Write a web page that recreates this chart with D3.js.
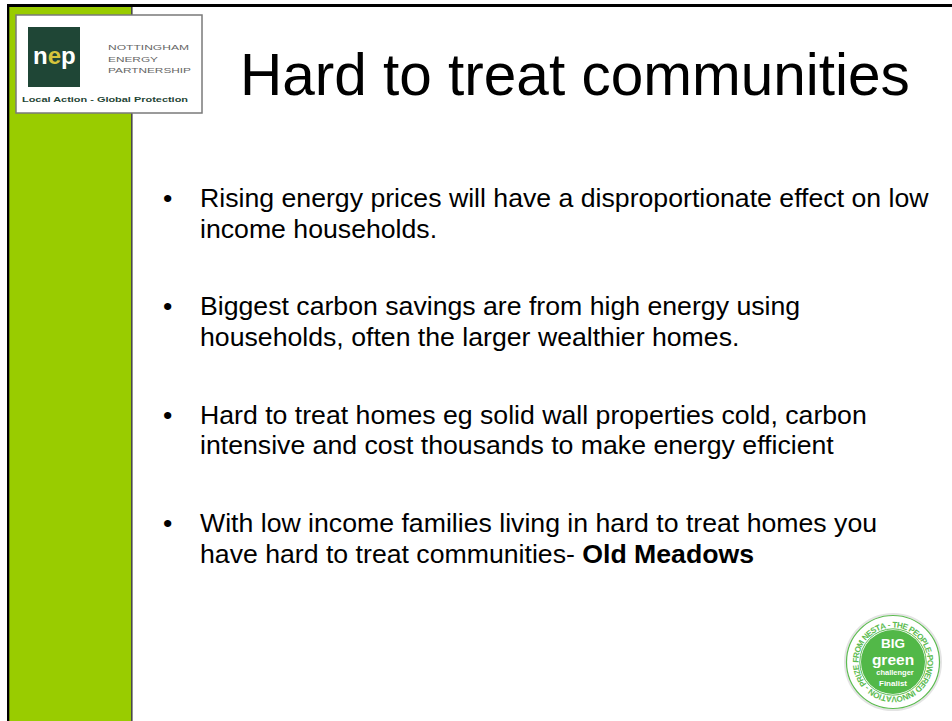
<!DOCTYPE html>
<html>
<head>
<meta charset="utf-8">
<script src="https://cdn.jsdelivr.net/npm/d3@7"></script>
<style>
  html, body { margin: 0; padding: 0; background: #fff; }
  svg { display: block; }
  text { font-family: "Liberation Sans", Arial, sans-serif; }
</style>
</head>
<body>
<div id="chart"></div>
<script>
// ---- content ----
const titleText = "Hard to treat communities";
const bulletLines = [
  ["Rising energy prices will have a disproportionate effect on low", "income households."],
  ["Biggest carbon savings are from high energy using", "households, often the larger wealthier homes."],
  ["Hard to treat homes eg solid wall properties cold, carbon", "intensive and cost thousands to make energy efficient"],
  ["With low income families living in hard to treat homes you", "have hard to treat communities- "]
];
const boldTail = ["", "", "", "Old Meadows"];
const logoNameLines = ["NOTTINGHAM", "ENERGY", "PARTNERSHIP"];
const logoNameWidths = [81, 50, 83];
const logoMark = ["n", "e", "p"];
const logoTagline = "Local Action - Global Protection";
const badgeLines = ["BIG", "green", "challenger", "Finalist"];
const badgeRing = "PRIZE FROM NESTA - THE PEOPLE-POWERED INNOVATION - ";

const W = 952, H = 721;
const svg = d3.select("#chart").append("svg").attr("width", W).attr("height", H);

// ---- frame ----
svg.append("rect").attr("x", 0).attr("y", 0).attr("width", W).attr("height", H).attr("fill", "#fff");
svg.append("rect").attr("x", 9).attr("y", 7).attr("width", 122).attr("height", H - 7).attr("fill", "#99CC00");
svg.append("rect").attr("x", 131).attr("y", 7).attr("width", 1.6).attr("height", H - 7).attr("fill", "#4a4a4a");
svg.append("rect").attr("x", 7).attr("y", 4).attr("width", W - 7).attr("height", 3).attr("fill", "#000");
svg.append("rect").attr("x", 7).attr("y", 4).attr("width", 2.3).attr("height", H - 4).attr("fill", "#000");

// ---- logo ----
const logo = svg.append("g");
logo.append("rect").attr("x", 16).attr("y", 15).attr("width", 186).attr("height", 98)
  .attr("fill", "#fff").attr("stroke", "#7a7a7a").attr("stroke-width", 1.5);
logo.append("rect").attr("x", 28).attr("y", 27).attr("width", 52).attr("height", 60).attr("fill", "#1f4636");
const mark = logo.append("text").attr("x", 33).attr("y", 64)
  .attr("font-size", 24).attr("font-weight", "bold");
mark.selectAll("tspan").data(logoMark).join("tspan")
  .attr("fill", (d, i) => i === 1 ? "#d6c53c" : "#ffffff").text(d => d);
const nameY = d3.scalePoint().domain(logoNameLines).range([50, 73]);
logo.selectAll("text.name").data(logoNameLines).join("text").attr("class", "name")
  .attr("x", 108).attr("y", d => nameY(d))
  .attr("font-size", 8).attr("fill", "#666")
  .attr("textLength", (d, i) => logoNameWidths[i]).attr("lengthAdjust", "spacingAndGlyphs")
  .text(d => d);
logo.append("text").attr("x", 22).attr("y", 102).attr("font-size", 8).attr("font-weight", "bold")
  .attr("fill", "#1f4636").attr("textLength", 166).attr("lengthAdjust", "spacingAndGlyphs")
  .text(logoTagline);

// ---- title ----
svg.append("text").attr("x", 240).attr("y", 95).attr("font-size", 58.5).attr("fill", "#000")
  .text(titleText);

// ---- bullets ----
const paraY = d3.scaleLinear().domain([0, bulletLines.length - 1]).range([207, 532]);
const lineGap = 30.5;
const paras = svg.append("g").selectAll("g").data(bulletLines).join("g");
paras.append("text").attr("x", 163).attr("y", (d, i) => paraY(i))
  .attr("font-size", 26.67).attr("fill", "#000").text("•");
paras.each(function (lines, pi) {
  const g = d3.select(this);
  lines.forEach((ln, li) => {
    const t = g.append("text").attr("x", 200).attr("y", paraY(pi) + li * lineGap)
      .attr("font-size", 26.67).attr("fill", "#000");
    t.append("tspan").text(ln);
    if (li === lines.length - 1 && boldTail[pi]) {
      t.append("tspan").attr("font-weight", "bold").text(boldTail[pi]);
    }
  });
});

// ---- badge ----
const cx = 893, cy = 662;
const badge = svg.append("g").attr("transform", `translate(${cx},${cy})`);
badge.append("circle").attr("r", 48).attr("fill", "#fff").attr("stroke", "#e4e4e4").attr("stroke-width", 2);
badge.append("circle").attr("r", 46.5).attr("fill", "none").attr("stroke", "#5cbb50").attr("stroke-width", 1.2);
badge.append("circle").attr("r", 32).attr("fill", "#52b848");
badge.append("circle").attr("r", 33.2).attr("fill", "none").attr("stroke", "#5cbb50").attr("stroke-width", 1);

// ring text, one glyph at a time, clockwise from lower-left
const rr = 37.5, ringSize = 8.2;
const chars = badgeRing.split("");
const probe = badge.append("text").attr("font-size", ringSize).attr("font-weight", "bold");
const widths = chars.map(c => { probe.text(c === " " ? "\u00a0" : c); return probe.node().getComputedTextLength(); });
probe.remove();
const total = d3.sum(widths);
const circ = 2 * Math.PI * rr;
const k = circ / total;
const a0 = -0.72 * Math.PI;
let acc = 0;
const glyphs = chars.map((c, i) => {
  const mid = acc + widths[i] / 2;
  acc += widths[i];
  return { c, ang: a0 + (mid * k / circ) * 2 * Math.PI };
}).filter(g => g.c !== " ");
badge.selectAll("text.ring").data(glyphs).join("text").attr("class", "ring")
  .attr("font-size", ringSize).attr("font-weight", "bold").attr("fill", "#5cbb50")
  .attr("text-anchor", "middle")
  .attr("transform", d => `rotate(${d.ang * 180 / Math.PI}) translate(0,${-rr + 3})`)
  .text(d => d.c);

badge.selectAll("text.bl").data(badgeLines).join("text").attr("class", "bl")
  .attr("text-anchor", "middle").attr("fill", "#fff").attr("font-weight", "bold")
  .attr("x", (d, i) => i === 2 ? 2 : 0)
  .attr("y", (d, i) => [-14, 3, 13, 23.5][i])
  .attr("font-size", (d, i) => [13.5, 15.5, 7.5, 8][i])
  .text(d => d);
</script>
</body>
</html>
